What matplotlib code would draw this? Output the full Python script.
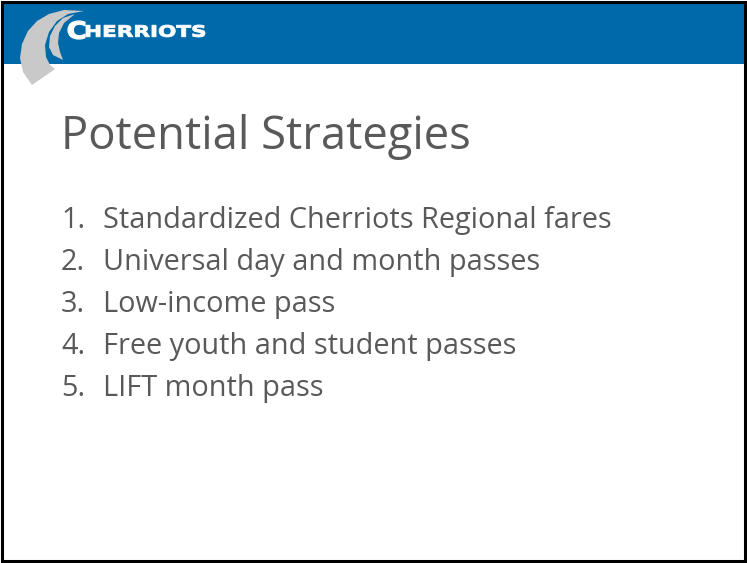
import matplotlib.pyplot as plt
from matplotlib.patches import Rectangle, Polygon, PathPatch
from matplotlib.textpath import TextPath
from matplotlib.font_manager import FontProperties
from matplotlib.transforms import Affine2D

# Slide content
title = "Potential Strategies"
items = [
    "Standardized Cherriots Regional fares",
    "Universal day and month passes",
    "Low-income pass",
    "Free youth and student passes",
    "LIFT month pass",
]
brand_first = "C"
brand_rest = "HERRIOTS"

W, H = 747, 563
blue = "#0069AA"
grey_text = "#595959"
logo_grey = "#C9C9C9"

fig = plt.figure(figsize=(W / 100, H / 100), dpi=100)
ax = fig.add_axes([0, 0, 1, 1])
ax.set_xlim(0, W)
ax.set_ylim(H, 0)
ax.axis("off")

# header band
ax.add_patch(Rectangle((3, 3), W - 6, 61, facecolor=blue, edgecolor="none"))

# logo swooshes (rough shapes)
outer = [(32, 85), (23, 72), (20, 58), (22, 44), (28, 31), (37, 21), (49, 14),
         (64, 10), (84, 11), (68, 14), (57, 21), (49, 32), (45, 45), (46, 57),
         (50, 65), (55, 69)]
inner = [(75, 14), (63, 18), (55, 26), (50, 36), (49, 47), (53, 55), (63, 60),
         (60, 52), (58, 43), (59, 33), (64, 23)]
ax.add_patch(Polygon(outer, closed=True, facecolor=logo_grey, edgecolor="none"))
ax.add_patch(Polygon(inner, closed=True, facecolor=logo_grey, edgecolor="none"))


def brand_text(s, x0, x1, top, base, lw, face="white", edge="white"):
    fp = FontProperties(family="DejaVu Sans", weight="bold")
    tp = TextPath((0, 0), s, size=20, prop=fp)
    ext = tp.get_extents()
    sx = (x1 - x0) / ext.width
    sy = (base - top) / ext.height
    tr = Affine2D().translate(-ext.x0, -ext.y0).scale(sx, -sy).translate(x0, base)
    return PathPatch(tr.transform_path(tp), facecolor=face, edgecolor=edge,
                     linewidth=lw)


# blue halo behind the big C, then the white letters
ax.add_patch(brand_text(brand_first, 68, 85, 21, 39, 3, face=blue, edge=blue))
ax.add_patch(brand_text(brand_first, 68, 85, 21, 39, 0.9))
ax.add_patch(brand_text(brand_rest, 86, 205, 25, 37, 0.6))

# title
ax.text(61, 149, title, fontsize=32.7, family="Open Sans", color=grey_text,
        ha="left", va="baseline")

# numbered list
for i, item in enumerate(items):
    y = 228 + 42 * i
    ax.text(61, y, f"{i + 1}.", fontsize=20.8, family="Open Sans",
            color=grey_text, ha="left", va="baseline")
    ax.text(103, y, item, fontsize=20.8, family="Open Sans",
            color=grey_text, ha="left", va="baseline")

# slide frame
ax.add_patch(Rectangle((1.5, 1.5), W - 3.5, H - 3.5, facecolor="none",
                       edgecolor="black", linewidth=2.2))

fig.savefig("out.png", dpi=100)
